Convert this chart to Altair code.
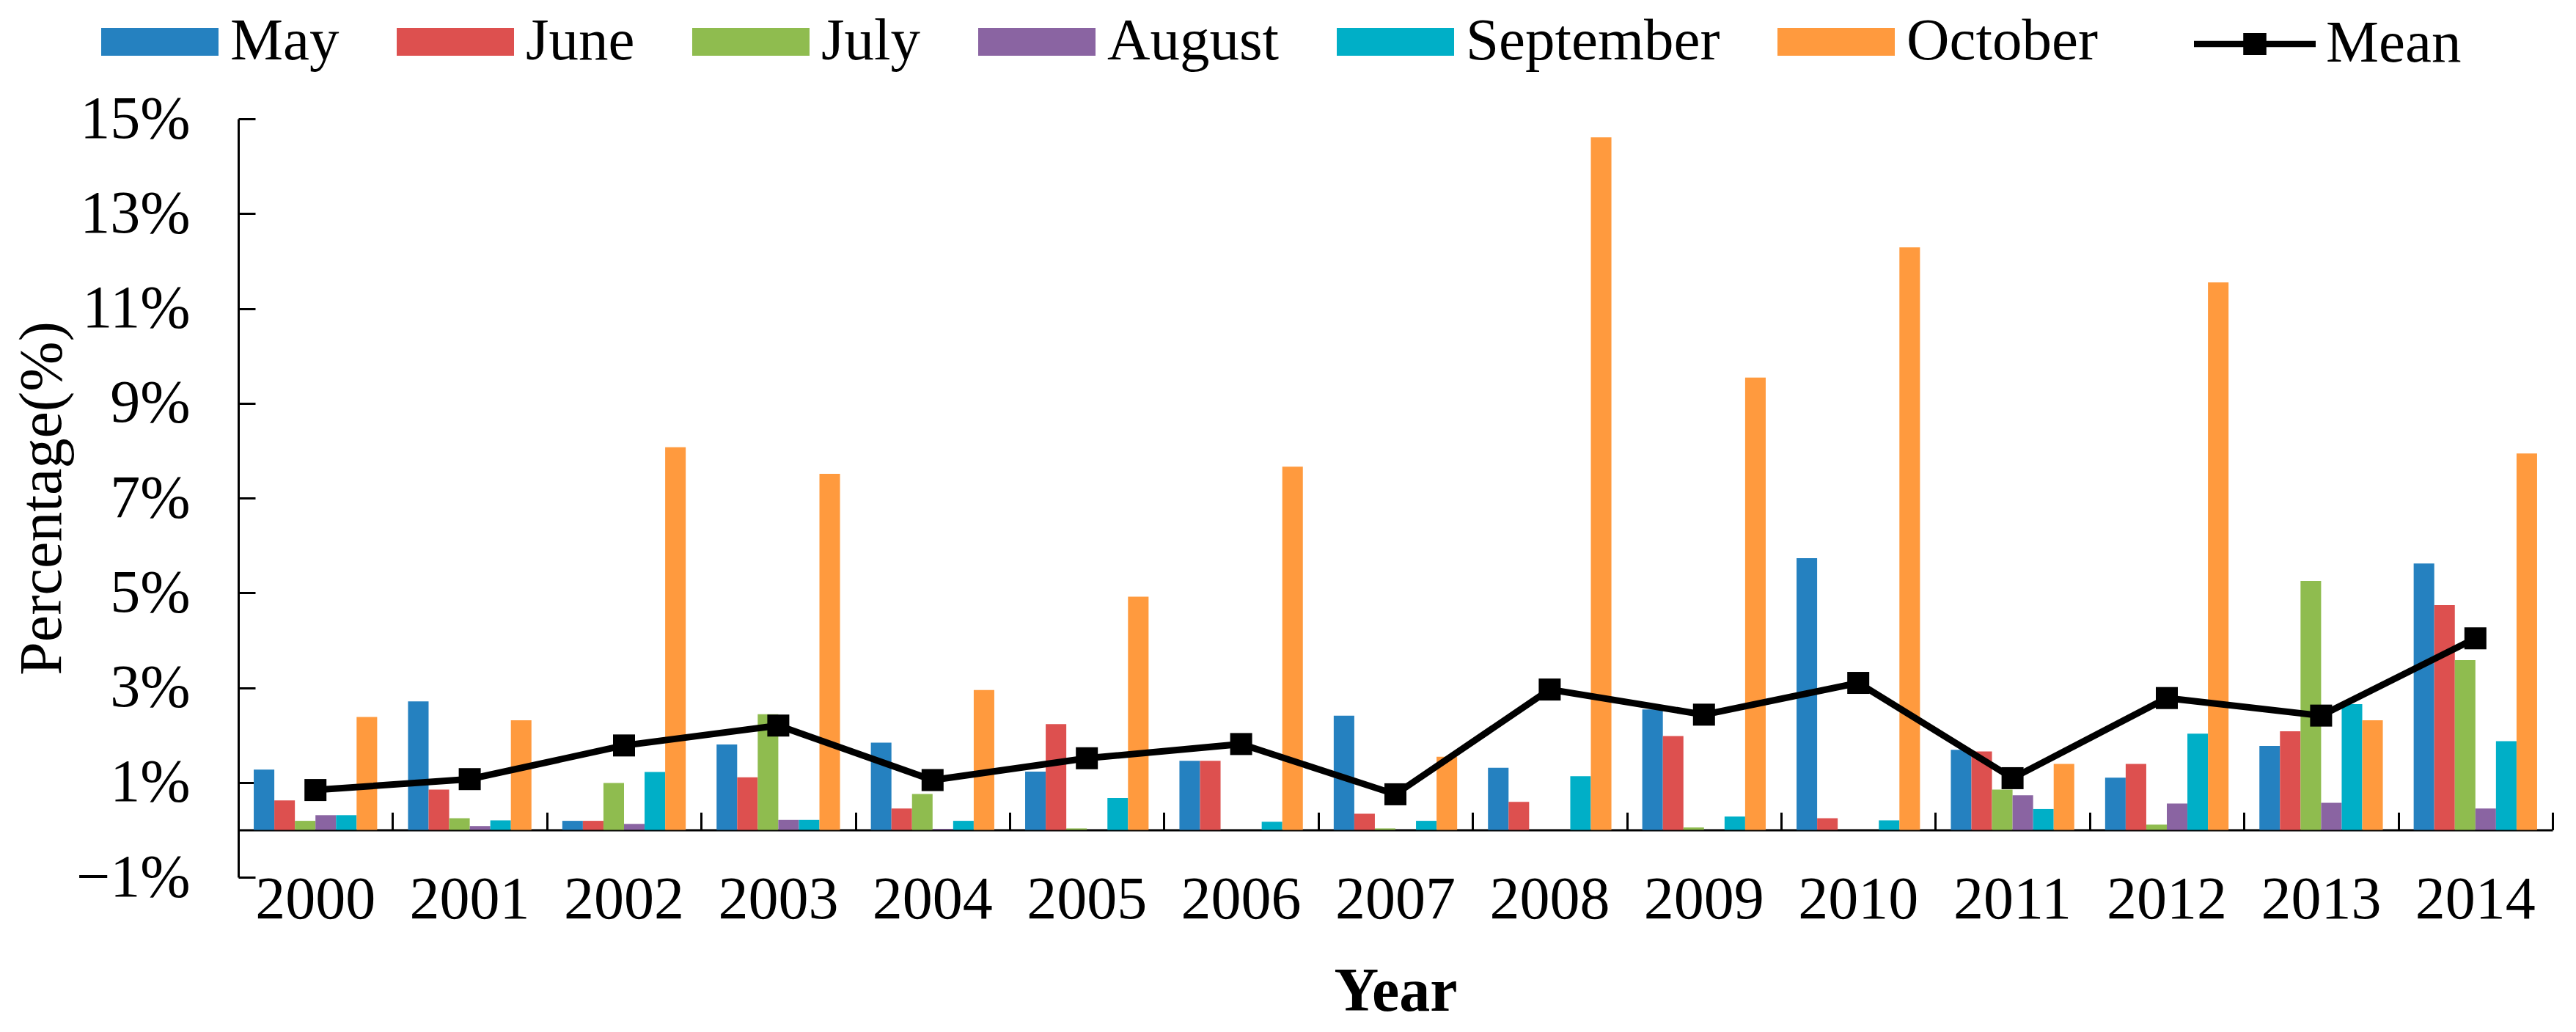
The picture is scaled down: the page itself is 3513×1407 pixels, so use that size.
import altair as alt
import pandas as pd

years = [2000, 2001, 2002, 2003, 2004, 2005, 2006, 2007, 2008, 2009, 2010, 2011, 2012, 2013, 2014]
months = ["May", "June", "July", "August", "September", "October"]
may = [1.27, 2.71, 0.19, 1.80, 1.84, 1.23, 1.455, 2.41, 1.31, 2.54, 5.73, 1.69, 1.10, 1.77, 5.62]
june = [0.62, 0.85, 0.19, 1.11, 0.45, 2.23, 1.455, 0.34, 0.59, 1.98, 0.245, 1.655, 1.39, 2.08, 4.74]
july = [0.19, 0.245, 0.99, 2.44, 0.755, 0.03, 0.0, 0.03, 0.0, 0.05, 0.0, 0.85, 0.11, 5.25, 3.58]
august = [0.31, 0.08, 0.125, 0.21, 0.02, 0.0, 0.0, 0.0, 0.0, 0.0, 0.0, 0.73, 0.555, 0.57, 0.45]
september = [0.31, 0.20, 1.22, 0.21, 0.19, 0.67, 0.17, 0.19, 1.13, 0.28, 0.20, 0.44, 2.03, 2.65, 1.87]
october = [2.38, 2.31, 8.07, 7.51, 2.95, 4.92, 7.66, 1.54, 14.61, 9.54, 12.29, 1.39, 11.55, 2.31, 7.94]
mean = [0.84, 1.07, 1.78, 2.20, 1.05, 1.51, 1.81, 0.75, 2.96, 2.43, 3.10, 1.09, 2.78, 2.41, 4.04]
month_colors = ["#2581C0", "#DD504F", "#8FBC4F", "#8A64A2", "#00AFC7", "#FF9A3E"]
y_ticks = [-1, 1, 3, 5, 7, 9, 11, 13, 15]

rows = []
for m, vals in zip(months, [may, june, july, august, september, october]):
    for yr, v in zip(years, vals):
        rows.append({"year": str(yr), "month": m, "value": v})
bars_df = pd.DataFrame(rows)
mean_df = pd.DataFrame({"year": [str(y) for y in years], "mean": mean, "series": ["Mean"] * len(years)})

W, H = 3156, 1034
ZERO = H * 15 / 16
FONT = "Liberation Serif"

x_scale = alt.Scale(paddingInner=0, paddingOuter=0)
y_scale = alt.Scale(domain=[-1, 15], nice=False)

rect_path = "M-1,-0.2375 L1,-0.2375 L1,0.2375 L-1,0.2375 Z"
mean_path = ("M-1,-0.05 L1,-0.05 L1,0.05 L-1,0.05 Z "
             "M-0.19,-0.18 L0.19,-0.18 L0.19,0.18 L-0.19,0.18 Z")

bars = alt.Chart(bars_df).mark_bar().encode(
    x=alt.X("year:N", scale=x_scale,
            axis=alt.Axis(orient="bottom", domain=False, ticks=False, labelPadding=55,
                          labelBaseline="alphabetic", labelAngle=0, labelFontSize=82,
                          title="Year", titleFontSize=84, titleFontWeight="bold",
                          titleX=W / 2, titleY=181, titleBaseline="alphabetic", titleAlign="center")),
    xOffset=alt.XOffset("month:N", sort=months, scale=alt.Scale(paddingOuter=0.75, paddingInner=0)),
    y=alt.Y("value:Q", scale=y_scale,
            axis=alt.Axis(orient="left", values=y_ticks, domain=False, ticks=False, grid=False,
                          labelPadding=66, labelExpr="format(datum.value, 'd') + '%'",
                          labelFontSize=82, title="Percentage(%)", titleFontSize=82,
                          titleFontWeight="normal", titleAngle=270, titleX=-268, titleY=H / 2,
                          titleAlign="center", titleBaseline="middle")),
    color=alt.Color("month:N", sort=months,
                    scale=alt.Scale(domain=months, range=month_colors),
                    legend=alt.Legend(orient="none", legendX=-187, legendY=-185, direction="horizontal",
                                      columns=6, title=None, symbolType=rect_path, symbolSize=25600,
                                      symbolStrokeWidth=0, labelOffset=16, columnPadding=78,
                                      padding=0, labelFontSize=81)),
)

line = alt.Chart(mean_df).mark_line(color="black", strokeWidth=9).encode(
    x=alt.X("year:N", scale=x_scale,
            axis=alt.Axis(orient="top", offset=-ZERO, labels=False, domain=True, ticks=True,
                          tickBand="extent", tickSize=24, title=None, grid=False)),
    y=alt.Y("mean:Q", scale=y_scale,
            axis=alt.Axis(orient="right", offset=-W, labels=False, values=y_ticks, domain=True,
                          ticks=True, tickSize=23, title=None, grid=False)),
)

points = alt.Chart(mean_df).mark_point(shape="square", size=900, filled=True, opacity=1).encode(
    x=alt.X("year:N", axis=None),
    y=alt.Y("mean:Q", axis=None),
    color=alt.Color("series:N", scale=alt.Scale(domain=["Mean"], range=["black"]),
                    legend=alt.Legend(orient="none", legendX=2667, legendY=-185, title=None,
                                      symbolType=mean_path, symbolSize=27556, symbolStrokeWidth=0,
                                      symbolOpacity=1, labelOffset=14, padding=0, labelFontSize=81)),
)

chart = alt.layer(bars, line, points).resolve_scale(color="independent").properties(
    width=W, height=H,
    autosize=alt.AutoSizeParams(type="none"),
    padding={"left": 317, "top": 154, "right": 20, "bottom": 205},
).configure_axis(
    domainColor="black", domainWidth=3, tickColor="black", tickWidth=3,
    labelFont=FONT, titleFont=FONT, labelColor="black", titleColor="black",
).configure_legend(
    labelFont=FONT, labelColor="black", labelLimit=1000,
).configure_view(stroke=None)

chart.save("out.html", embed_options={"renderer": "svg", "actions": False})
